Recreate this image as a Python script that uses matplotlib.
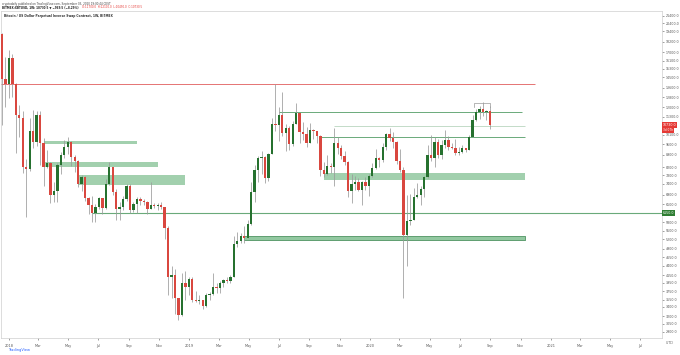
import matplotlib
matplotlib.use('Agg')
import matplotlib.pyplot as plt
import matplotlib.dates as mdates
from matplotlib.ticker import NullLocator
import pandas as pd

# Weekly candles BITMEX:XBTUSD (week starting 2017-12-18)
first_week = '2017-12-18'
opens = [19100, 14400,
         13900, 16400, 13900, 11400, 11250, 8200, 8100, 10300, 9650, 11450, 9550, 8200,
         8450, 6900, 7050, 8350, 8900, 9350, 9650, 8750, 8550, 7380, 7700, 6770, 6450,
         6150, 6380, 6750, 6350, 7400, 8200, 7030, 6300, 6400, 6700, 7280, 6250, 6500,
         6700, 6620, 6590, 6300, 6450, 6420, 6480, 6370, 5580, 4100, 4150, 3580, 3230,
         3950, 3850,
         4050, 3550, 3530, 3540, 3420, 3660, 3680, 3850, 3820, 3940, 4020, 3990, 4110,
         5050, 5150, 5300, 5250, 5750, 7000, 8050, 8700, 8750, 7650, 8950, 10800, 10750,
         11450, 10200, 10550, 9500, 10800, 11550, 10250, 10150, 9600, 10400, 10300, 10000,
         8050, 7850, 8300, 8200, 9550, 9300, 8800, 8500, 7050, 7400, 7500, 7100, 7500,
         7300,
         7750, 8150, 8700, 8600, 9350, 10150, 9900, 9650, 8550, 8050, 5350, 5850, 5900,
         6800, 6900, 7150, 7700, 8900, 8700, 9650, 8900, 9450, 9750, 9350, 9300, 9000,
         9050, 9250, 9180, 9950, 11050, 11680, 11900, 11650, 11700]
highs = [19250, 16500,
         17250, 16800, 14000, 12200, 11700, 8650, 11250, 11800, 11700, 11700, 9900, 9180,
         8500, 7500, 8450, 9050, 9750, 9950, 9700, 8850, 8600, 7800, 7750, 6800, 6850,
         6500, 6800, 6780, 7600, 8500, 8250, 7150, 6600, 6850, 7400, 7400, 6600, 6800,
         6800, 6700, 6650, 7500, 6550, 6550, 6600, 6400, 5650, 4400, 4300, 3600, 4200,
         4250, 4100,
         4100, 3750, 3650, 3550, 3700, 3720, 4200, 3950, 4000, 4050, 4100, 4150, 5300,
         5450, 5400, 5650, 5900, 7500, 8350, 8800, 9100, 8800, 9000, 11200, 13880, 12000,
         13200, 10800, 10650, 11000, 12300, 11600, 10950, 10600, 10900, 10450, 10350, 10050,
         8500, 8850, 8450, 10550, 9950, 9450, 9100, 8550, 7850, 7750, 7650, 7550, 7700,
         7850,
         8450, 9200, 8750, 9600, 10200, 10500, 10250, 9700, 9200, 8200, 6900, 6950, 7200,
         7450, 7300, 7750, 9450, 10050, 9950, 9850, 9750, 10400, 10000, 9600, 9800, 9350,
         9450, 9300, 10050, 11450, 11900, 12100, 12450, 11800, 12100]
lows = [10700, 12050,
        12750, 12800, 9000, 9950, 7900, 6000, 8000, 9300, 9400, 8350, 7300, 8150,
        6550, 6600, 6600, 7850, 8700, 8950, 8300, 7950, 7250, 7050, 6650, 6100, 5800,
        5800, 6300, 6100, 6300, 7350, 6900, 5900, 5900, 6250, 6650, 6150, 6200, 6150,
        6450, 6450, 6100, 6300, 6350, 6250, 6300, 5200, 3650, 3600, 3250, 3130, 3200,
        3550, 3650,
        3500, 3500, 3450, 3350, 3400, 3550, 3650, 3700, 3700, 3850, 3950, 3950, 4100,
        4950, 5100, 5100, 5250, 5700, 6600, 7500, 7850, 7450, 7550, 8950, 10300, 9700,
        10000, 9100, 9150, 9400, 10800, 9550, 9750, 9350, 9550, 9850, 9600, 7750,
        7700, 7800, 7900, 7300, 8950, 8650, 8350, 6800, 6550, 7100, 7050, 6450, 7100,
        6850,
        7700, 8100, 8250, 8500, 9150, 9700, 9300, 8400, 7950, 3600, 4400, 5700, 5900,
        6750, 6450, 6800, 7650, 8550, 8200, 8700, 8650, 9300, 9150, 9200, 8850, 8900,
        9000, 9050, 9150, 9950, 11000, 11150, 11350, 11100, 10450]
closes = [14400, 13900,
          16400, 13900, 11400, 11250, 8200, 8100, 10300, 9650, 11450, 9550, 8200, 8450,
          6900, 7050, 8350, 8900, 9350, 9650, 8750, 8550, 7380, 7700, 6770, 6450, 6150,
          6380, 6750, 6350, 7400, 8200, 7030, 6300, 6400, 6700, 7280, 6250, 6500, 6700,
          6620, 6590, 6300, 6450, 6420, 6480, 6370, 5580, 4100, 4150, 3580, 3230, 3950,
          3850, 4050,
          3550, 3530, 3540, 3420, 3660, 3680, 3850, 3820, 3940, 4020, 3990, 4110, 5050,
          5150, 5300, 5250, 5750, 7000, 8050, 8700, 8750, 7650, 8950, 10800, 10750, 11450,
          10200, 10550, 9500, 10800, 11550, 10250, 10150, 9600, 10400, 10300, 10000, 8050,
          7850, 8300, 8200, 9550, 9300, 8800, 8500, 7050, 7400, 7500, 7100, 7500, 7300,
          7750,
          8150, 8700, 8600, 9350, 10150, 9900, 9650, 8550, 8050, 5350, 5850, 5900, 6800,
          6900, 7150, 7700, 8900, 8700, 9650, 8900, 9450, 9750, 9350, 9300, 9000, 9050,
          9250, 9180, 9950, 11050, 11680, 11900, 11650, 11700, 10730]

# drawings on the chart: (start, end, low, high)
zones = [('2018-03-12', '2018-09-18', 9520, 9710),
         ('2018-03-12', '2018-10-30', 8240, 8500),
         ('2018-05-21', '2018-12-24', 7340, 7820),
         ('2019-09-30', '2020-11-10', 7580, 7900)]
support_zone = ('2019-04-22', '2020-11-10', 5170, 5320)
red_line = ('2017-12-10', '2020-12-01', 13880)
green_lines = [('2019-07-01', '2020-11-04', 11630),
               ('2019-09-23', '2020-11-10', 9950)]
grey_line = ('2019-10-21', '2020-11-10', 10650)
long_line = ('2018-06-18', '2021-09-01', 6150)
range_box = ('2020-07-30', '2020-09-01', 12050, 12350)

price_ticks = [21400, 20400, 19400, 18200, 17000, 16100, 15300, 14500, 13600, 12800,
               12000, 11300, 10100, 9500, 8900, 8200, 7800, 7400, 6900, 6500, 5800,
               5500, 5200, 4900, 4650, 4400, 4150, 3950, 3750, 3550, 3400, 3200, 3050, 2900]
month_ticks = ['2018-01-01', '2018-03-01', '2018-05-01', '2018-07-01', '2018-09-01',
               '2018-11-01', '2019-01-01', '2019-03-01', '2019-05-01', '2019-07-01',
               '2019-09-01', '2019-11-01', '2020-01-01', '2020-03-01', '2020-05-01',
               '2020-07-01', '2020-09-01', '2020-11-01', '2021-01-01', '2021-03-01',
               '2021-05-01', '2021-07-01']
month_labels = ['2018', 'Mar', 'May', 'Jul', 'Sep', 'Nov', '2019', 'Mar', 'May', 'Jul',
                'Sep', 'Nov', '2020', 'Mar', 'May', 'Jul', 'Sep', 'Nov', '2021', 'Mar',
                'May', 'Jul']

UP = '#26712f'
DOWN = '#d9473f'
WICK = '#9a9a9a'
ZONE = '#92c8a0'
LINE = '#6aaa7a'
TXT = '#555555'

W, H = 680, 355
fig = plt.figure(figsize=(W / 100, H / 100), dpi=100, facecolor='white')
ax = fig.add_axes([1 / W, (H - 338) / H, 661 / W, (338 - 11) / H])


def d(s):
    return mdates.date2num(pd.Timestamp(s))


weeks = pd.date_range(first_week, periods=len(opens), freq='W-MON')
xs = mdates.date2num(weeks)

# candles
for x, o, h, l, c in zip(xs, opens, highs, lows, closes):
    col = UP if c >= o else DOWN
    ax.vlines(x, l, h, color=WICK, lw=0.55, zorder=2)
    ax.bar(x, c - o, bottom=o, width=4.7, color=col, lw=0, zorder=3)

# zones and lines
for s, e, lo, hi in zones:
    ax.fill_between([d(s), d(e)], lo, hi, color=ZONE, alpha=0.85, lw=0, zorder=1)
s, e, lo, hi = support_zone
ax.fill_between([d(s), d(e)], lo, hi, facecolor=ZONE, edgecolor='#4f9462', lw=0.6, zorder=1)

s, e, p = red_line
ax.hlines(p, d(s), d(e), color='#e57373', lw=0.7, zorder=1)
for s, e, p in green_lines:
    ax.hlines(p, d(s), d(e), color=LINE, lw=0.7, zorder=1)
s, e, p = grey_line
ax.hlines(p, d(s), d(e), color='#b9d6bf', lw=0.6, zorder=1)
s, e, p = long_line
ax.hlines(p, d(s), d(e), color=LINE, lw=0.8, zorder=1)
s, e, lo, hi = range_box
ax.plot([d(s), d(s), d(e), d(e)], [lo, hi, hi, lo], color='#9a9a9a', lw=0.5, zorder=1)

ax.set_yscale('log')
ax.set_ylim(2787, 22078)
ax.set_xlim(d('2017-12-16'), d('2021-08-14'))

ax.yaxis.set_minor_locator(NullLocator())
ax.set_yticks(price_ticks)
ax.set_yticklabels([f'{v:.1f}' for v in price_ticks])
ax.yaxis.tick_right()
ax.tick_params(axis='y', length=1.5, width=0.4, pad=1.2, labelsize=2.3, colors=TXT)
ax.set_xticks([d(t) for t in month_ticks])
ax.set_xticklabels(month_labels)
ax.tick_params(axis='x', length=1.5, width=0.4, pad=2.5, labelsize=2.5, colors=TXT)
for sp in ax.spines.values():
    sp.set_color('#cfcfcf')
    sp.set_linewidth(0.5)

# price tags on the axis
last = closes[-1]
ax.text(1.001, last, f'{last:.1f}', transform=ax.get_yaxis_transform(), ha='left',
        va='center', fontsize=2.3, color='white', zorder=10, clip_on=False,
        bbox=dict(boxstyle='square,pad=0.35', fc='#e53935', ec='none'))
ax.text(1.001, last * 0.968, '3d 07h', transform=ax.get_yaxis_transform(), ha='left',
        va='center', fontsize=2.1, color='white', zorder=10, clip_on=False,
        bbox=dict(boxstyle='square,pad=0.35', fc='#e53935', ec='none'))
p = long_line[2]
ax.text(1.001, p, f'{p:.1f}', transform=ax.get_yaxis_transform(), ha='left',
        va='center', fontsize=2.3, color='white', zorder=10, clip_on=False,
        bbox=dict(boxstyle='square,pad=0.35', fc='#2e7d32', ec='none'))

# header
fig.text(2 / W, 1 - 1.5 / H, 'cryptodaily published on TradingView.com, September 03, 2020 19:00:44 CEST',
         fontsize=2.0, color='#444444', va='top', ha='left')
sym = fig.text(2 / W, 1 - 5.5 / H, 'BITMEX:XBTUSD, 1W: 10730.5 \u25bc \u2212969.5 (\u22128.29%)',
               fontsize=2.0, color='#222222', va='top', ha='left', weight='bold')
fig.canvas.draw()
x_end = sym.get_window_extent().x1
fig.text((x_end + 3) / W, 1 - 5.5 / H, 'O:11700.0  H:12100.0  L:10450.0  C:10730.5',
         fontsize=2.0, color='#e53935', va='top', ha='left')
fig.text(4 / W, 1 - 13.5 / H, 'Bitcoin / US Dollar Perpetual Inverse Swap Contract, 1W, BITMEX',
         fontsize=2.2, color='#333333', va='top', ha='left', weight='bold')
fig.text(8 / W, 1 - 350 / H, 'TradingView', fontsize=2.6, color='#2962ff',
         va='center', ha='left')
fig.text(666 / W, 1 - 343 / H, '(UTC)', fontsize=2.2, color=TXT, va='center', ha='left')

fig.savefig('out.png', dpi=100, facecolor='white')
